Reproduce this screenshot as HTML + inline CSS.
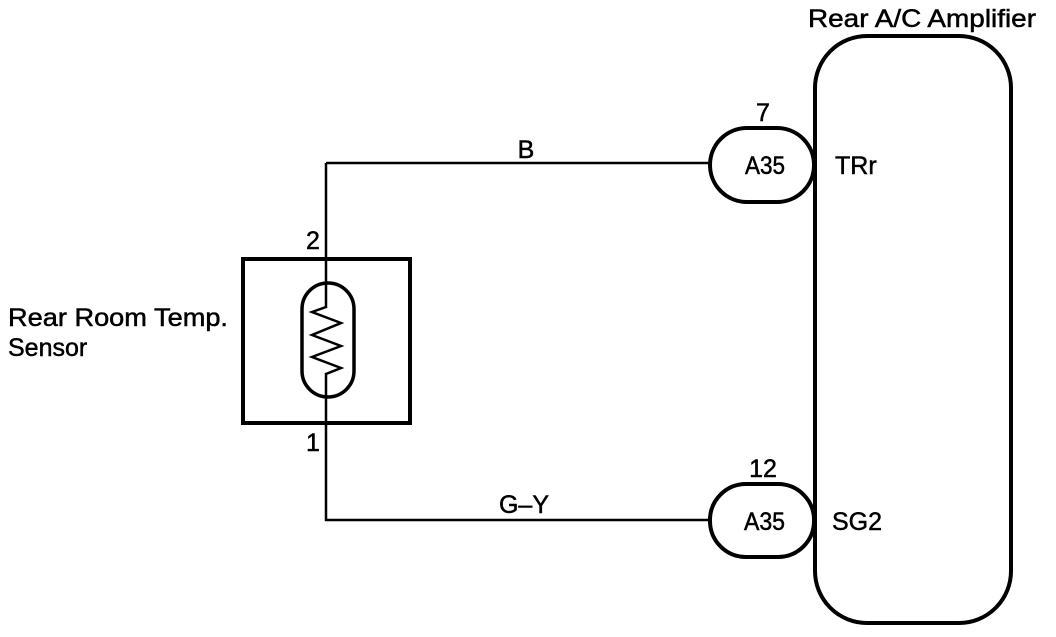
<!DOCTYPE html>
<html><head><style>
body{margin:0;background:#fff}
svg text{font-family:"Liberation Sans",Arial,sans-serif;fill:#000;stroke:#000;stroke-width:0.5}
</style></head><body>
<svg width="1056" height="632" viewBox="0 0 1056 632" xmlns="http://www.w3.org/2000/svg">
<g fill="none" stroke="#000">
<rect x="815" y="36" width="196" height="587" rx="52" ry="52" stroke-width="4"/>
<rect x="710" y="128" width="104" height="74" rx="37" ry="37" stroke-width="4"/>
<rect x="710" y="484" width="104" height="73" rx="36" ry="36" stroke-width="4"/>
<rect x="243" y="259" width="167" height="164" stroke-width="4"/>
<rect x="302" y="283" width="52" height="114" rx="26" ry="26" stroke-width="3.5"/>
<polyline points="326,163 326,307 312,312 341,323 312,335 341,346 312,357 341,368 326,374 326,520 710,520" stroke-width="2.5"/>
<line x1="326" y1="163" x2="710" y2="163" stroke-width="2.5"/>
</g>
<g font-size="25">
<text x="808" y="27" textLength="228" lengthAdjust="spacingAndGlyphs">Rear A/C Amplifier</text>
<text x="763" y="121" text-anchor="middle">7</text>
<text x="745" y="174" textLength="40" lengthAdjust="spacingAndGlyphs">A35</text>
<text x="835" y="174">TRr</text>
<text x="763" y="477" text-anchor="middle">12</text>
<text x="744" y="530" textLength="41" lengthAdjust="spacingAndGlyphs">A35</text>
<text x="832" y="530">SG2</text>
<text x="526" y="158" text-anchor="middle">B</text>
<text x="524" y="513" text-anchor="middle">G–Y</text>
<text x="313" y="249" text-anchor="middle">2</text>
<text x="313" y="451" text-anchor="middle">1</text>
<text x="8" y="326" textLength="220" lengthAdjust="spacingAndGlyphs">Rear Room Temp.</text>
<text x="8" y="356">Sensor</text>
</g>
</svg>
</body></html>
